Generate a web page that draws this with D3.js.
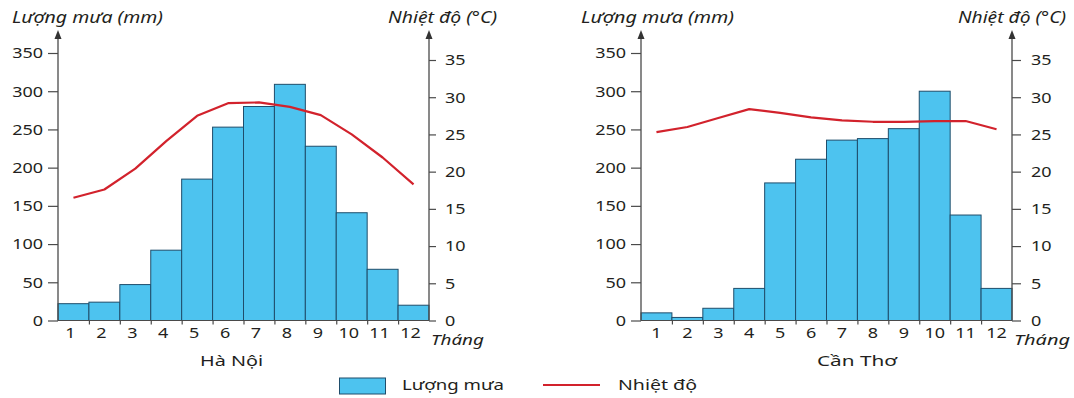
<!DOCTYPE html>
<html><head><meta charset="utf-8">
<script src="https://cdn.jsdelivr.net/npm/d3@7"></script>
<style>
html,body{margin:0;padding:0;background:#fff;}
svg{display:block;}
text{font-family:"Noto Sans","DejaVu Sans",sans-serif;fill:#231f20;}
</style></head>
<body>
<script>
// ---- data ----
const months = [1,2,3,4,5,6,7,8,9,10,11,12];
const rainTicks = [0,50,100,150,200,250,300,350];
const tempTicks = [0,5,10,15,20,25,30,35];
const hanoiRain = [22, 24, 47, 92, 185, 253, 280, 309, 228, 141, 67, 20];
const hanoiTemp = [16.5, 17.6, 20.4, 24.1, 27.5, 29.2, 29.3, 28.7, 27.6, 25.0, 21.9, 18.3];
const canthoRain = [10, 4, 16, 42, 180, 211, 236, 238, 251, 300, 138, 42];
const canthoTemp = [25.3, 26.0, 27.2, 28.4, 27.9, 27.3, 26.9, 26.7, 26.7, 26.8, 26.8, 25.7];
const stations = ["Hà Nội", "Cần Thơ"];
const rainLabel = "Lượng mưa (mm)";
const tempLabel = "Nhiệt độ (°C)";
const monthLabel = "Tháng";
const legendLabels = ["Lượng mưa", "Nhiệt độ"];

const W = 1074, H = 398;
const BAR_FILL = "#4dc3ef", BAR_STROKE = "#1f4d6b", LINE = "#d2222c", AXIS = "#4a4a4a";
const FONT = '"Noto Sans","DejaVu Sans",sans-serif';

const svg = d3.select("body").append("svg").attr("width", W).attr("height", H);

function fit(sel, w){ sel.attr("textLength", w).attr("lengthAdjust", "spacingAndGlyphs"); return sel; }

const charts = [
  {rain: hanoiRain, temp: hanoiTemp, name: stations[0], x0: 58, x1: 429, lblDx: -3,
   t1x: 12, t1w: 151, t2x: 388, t2w: 109, thx: 431, thw: 53, nx: 200, nw: 63, rTick: 7, rGap: 16},
  {rain: canthoRain, temp: canthoTemp, name: stations[1], x0: 641, x1: 1012, lblDx: 0,
   t1x: 581, t1w: 153, t2x: 958, t2w: 108, thx: 1014, thw: 56, nx: 817, nw: 80, rTick: 9, rGap: 19}
];
const yBottom = 320.5;

charts.forEach(c => {
  const g = svg.append("g");
  const x = d3.scaleBand().domain(months).range([c.x0, c.x1]).padding(0);
  const xl = d3.scaleLinear().domain([0, 12]).range([c.x0, c.x1]);
  const yR = d3.scaleLinear().domain([0, 350]).range([yBottom, 53]);
  const yT = d3.scaleLinear().domain([0, 35]).range([yBottom, 60]);

  // bars
  g.append("g").selectAll("rect").data(c.rain).join("rect")
    .attr("x", (d, i) => x(months[i]))
    .attr("y", d => yR(d))
    .attr("width", x.bandwidth())
    .attr("height", d => yR(0) - yR(d))
    .attr("fill", BAR_FILL).attr("stroke", BAR_STROKE).attr("stroke-width", 1);

  // baseline
  g.append("line").attr("x1", c.x0).attr("x2", c.x1).attr("y1", yBottom).attr("y2", yBottom)
    .attr("stroke", AXIS).attr("stroke-width", 1.2);

  // boundary ticks
  const bt = g.append("g").attr("transform", `translate(0,${yBottom})`)
    .call(d3.axisBottom(xl).tickValues(d3.range(1, 12)).tickSize(4).tickFormat(""));
  bt.select(".domain").remove();
  bt.selectAll("line").attr("stroke", AXIS).attr("stroke-width", 1.2);

  // month labels
  const ml = g.append("g").attr("transform", `translate(${c.lblDx},${yBottom})`)
    .call(d3.axisBottom(x).tickSize(0).tickPadding(6.5));
  ml.select(".domain").remove();
  ml.selectAll("text").attr("font-size", 15).attr("fill", "#231f20").attr("font-family", FONT)
    .style("transform", "scaleX(1.2)").style("transform-origin", "0 0").style("transform-box", "view-box");

  // left axis
  const la = g.append("g").attr("transform", `translate(${c.x0},0)`)
    .call(d3.axisLeft(yR).tickValues(rainTicks).tickSize(10).tickPadding(6));
  la.select(".domain").remove();
  la.selectAll("line").attr("stroke", AXIS).attr("stroke-width", 1.2);
  la.selectAll("text").attr("font-size", 15).attr("fill", "#231f20").attr("font-family", FONT)
    .attr("x", -15 / 1.2).attr("transform", "scale(1.2,1)");

  // right axis
  const ra = g.append("g").attr("transform", `translate(${c.x1},0)`)
    .call(d3.axisRight(yT).tickValues(tempTicks).tickSize(c.rTick));
  ra.select(".domain").remove();
  ra.selectAll("line").attr("stroke", AXIS).attr("stroke-width", 1.2);
  ra.selectAll("text").attr("font-size", 15).attr("fill", "#231f20").attr("font-family", FONT)
    .attr("x", c.rGap / 1.2).attr("transform", "scale(1.2,1)");

  // axis lines with arrows
  [c.x0, c.x1].forEach(ax => {
    g.append("line").attr("x1", ax).attr("x2", ax).attr("y1", yBottom).attr("y2", 36)
      .attr("stroke", AXIS).attr("stroke-width", 1.3);
    g.append("path").attr("d", `M${ax},30 L${ax - 3.5},39 L${ax + 3.5},39 Z`).attr("fill", "#333");
  });

  // temperature line
  const line = d3.line().x((d, i) => x(months[i]) + x.bandwidth() / 2).y(d => yT(d));
  g.append("path").datum(c.temp).attr("d", line).attr("fill", "none")
    .attr("stroke", LINE).attr("stroke-width", 2.2).attr("stroke-linejoin", "round");

  // titles
  fit(g.append("text").attr("x", c.t1x).attr("y", 23).attr("font-size", 15.5).attr("font-style", "italic").text(rainLabel), c.t1w);
  fit(g.append("text").attr("x", c.t2x).attr("y", 23).attr("font-size", 15.5).attr("font-style", "italic").text(tempLabel), c.t2w);
  fit(g.append("text").attr("x", c.thx).attr("y", 345).attr("font-size", 14).attr("font-style", "italic").text(monthLabel), c.thw);
  fit(g.append("text").attr("x", c.nx).attr("y", 366).attr("font-size", 15).text(c.name), c.nw);
});

// legend
const lg = svg.append("g");
lg.append("rect").attr("x", 339.5).attr("y", 378).attr("width", 46).attr("height", 16)
  .attr("fill", BAR_FILL).attr("stroke", BAR_STROKE).attr("stroke-width", 1);
fit(lg.append("text").attr("x", 402).attr("y", 390).attr("font-size", 15).text(legendLabels[0]), 102);
lg.append("line").attr("x1", 543).attr("x2", 600).attr("y1", 385).attr("y2", 385)
  .attr("stroke", LINE).attr("stroke-width", 2);
fit(lg.append("text").attr("x", 618).attr("y", 390).attr("font-size", 15).text(legendLabels[1]), 79);
</script>
</body></html>
